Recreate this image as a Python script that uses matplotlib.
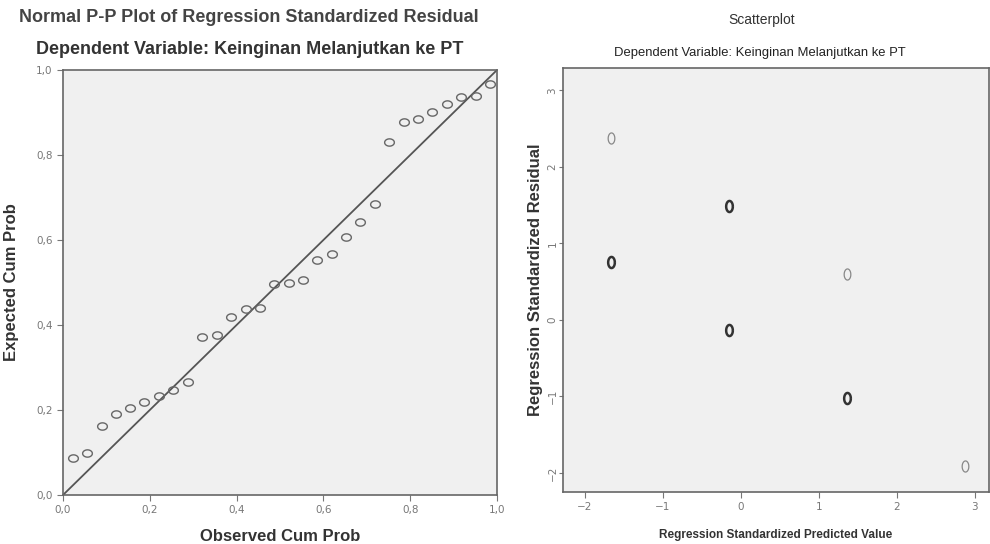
import matplotlib.pyplot as plt
import numpy as np
from matplotlib.path import Path
from matplotlib.ticker import FuncFormatter

# P-P plot data
observed = [0.022, 0.055, 0.090, 0.122, 0.155, 0.187, 0.221, 0.254, 0.288, 0.321,
            0.355, 0.387, 0.421, 0.454, 0.486, 0.520, 0.552, 0.586, 0.619, 0.652,
            0.685, 0.718, 0.751, 0.785, 0.817, 0.851, 0.885, 0.917, 0.951, 0.983]
expected = [0.086, 0.100, 0.163, 0.191, 0.205, 0.219, 0.234, 0.247, 0.265, 0.371,
            0.376, 0.418, 0.437, 0.441, 0.496, 0.499, 0.507, 0.552, 0.568, 0.607,
            0.642, 0.685, 0.831, 0.877, 0.885, 0.901, 0.919, 0.937, 0.939, 0.966]

# scatterplot data
pred = [-1.66, -0.15, -1.66, 1.36, -0.15, 1.36, 2.87]
resid = [2.37, 1.49, 0.75, 0.60, -0.13, -1.02, -1.91]
counts = [1, 2, 2, 1, 2, 2, 1]

pp_ticks = [0.0, 0.2, 0.4, 0.6, 0.8, 1.0]
sc_xticks = [-2, -1, 0, 1, 2, 3]
sc_yticks = [-2, -1, 0, 1, 2, 3]

W, H = 990, 544
bg = '#f0f0f0'
narrow = ['DejaVu Sans Condensed', 'Liberation Sans']
bold = ['Liberation Sans', 'DejaVu Sans']

fig = plt.figure(figsize=(W / 100, H / 100), dpi=100)

def ax_at(l, t, r, b):
    return fig.add_axes([l / W, 1 - b / H, (r - l) / W, (b - t) / H])

comma = FuncFormatter(lambda v, p: ('%.1f' % v).replace('.', ','))

t = np.linspace(0, 2 * np.pi, 40)
wide_oval = Path(np.column_stack([np.cos(t), 0.75 * np.sin(t)]))
tall_oval = Path(np.column_stack([0.6 * np.cos(t), np.sin(t)]))

# ---- left: P-P plot
ax1 = ax_at(63, 70, 497, 495)
ax1.set_facecolor(bg)
ax1.plot([0, 1], [0, 1], color='#555555', lw=1.3)
ax1.plot(observed, expected, marker=wide_oval, ls='none', mfc='none', mec='#666666',
         ms=7, mew=1.0)
ax1.set_xlim(0, 1)
ax1.set_ylim(0, 1)
ax1.set_xticks(pp_ticks)
ax1.set_yticks(pp_ticks)
ax1.xaxis.set_major_formatter(comma)
ax1.yaxis.set_major_formatter(comma)
ax1.set_xlabel('Observed Cum Prob', family=bold, fontsize=12, fontweight='bold',
               color='#333333', labelpad=10)
ax1.set_ylabel('Expected Cum Prob', family=bold, fontsize=12, fontweight='bold',
               color='#333333', labelpad=12)

fig.text(249 / W, 1 - 18 / H, 'Normal P-P Plot of Regression Standardized Residual',
         ha='center', va='center', family=bold, fontsize=13, fontweight='bold', color='#444444')
fig.text(250 / W, 1 - 50 / H, 'Dependent Variable: Keinginan Melanjutkan ke PT',
         ha='center', va='center', family=bold, fontsize=13, fontweight='bold', color='#333333')

# ---- right: scatterplot
ax2 = ax_at(563, 68, 989, 492)
ax2.set_facecolor(bg)
for x, y, c in zip(pred, resid, counts):
    ax2.plot(x, y, marker=tall_oval, mfc='none', mec='#888888' if c == 1 else '#333333',
             ms=8, mew=0.9 * c, ls='none')
ax2.set_xlim(-2.28, 3.18)
ax2.set_ylim(-2.25, 3.29)
ax2.set_xticks(sc_xticks)
ax2.set_yticks(sc_yticks)
for lab in ax2.get_yticklabels():
    lab.set_rotation(90)
    lab.set_va('center')
ax2.set_xlabel('Regression Standardized Predicted Value', family=narrow, fontsize=8.5,
               fontweight='bold', color='#333333', labelpad=12)
ax2.set_ylabel('Regression Standardized Residual', family=bold, fontsize=12,
               fontweight='bold', color='#333333', labelpad=3)

fig.text(762 / W, 1 - 20 / H, 'Scatterplot', ha='center', va='center',
         family=narrow, fontsize=10, color='#333333')
fig.text(760 / W, 1 - 53 / H, 'Dependent Variable: Keinginan Melanjutkan ke PT',
         ha='center', va='center', family=narrow, fontsize=9.4, color='#222222')

for ax in (ax1, ax2):
    for s in ax.spines.values():
        s.set_color('#666666')
        s.set_linewidth(1.2)
    ax.tick_params(length=4, width=0.8, color='#777777', labelsize=7.5,
                   labelcolor='#777777')
ax2.tick_params(axis='y', length=3, pad=1)

fig.savefig('out.png', dpi=100)
